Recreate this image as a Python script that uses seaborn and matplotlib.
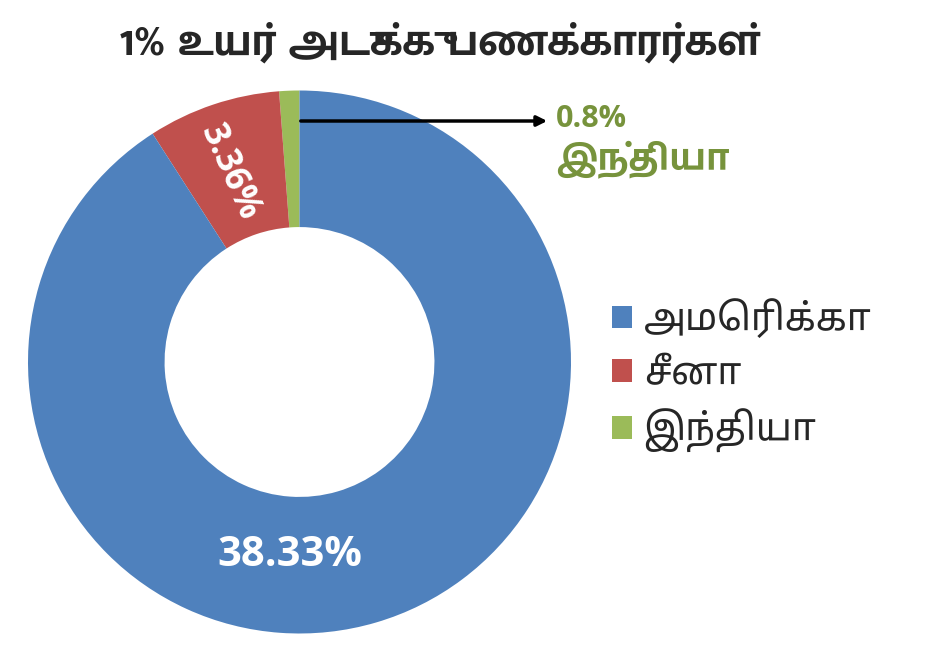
import matplotlib
matplotlib.use("Agg")
import matplotlib.pyplot as plt
import seaborn as sns

# data
countries = ["அமெரிக்கா", "சீனா", "இந்தியா"]
label_text = ["38.33%", "3.36%", "0.8%"]
# share of the ring as drawn
ring_share = [90.9, 7.9, 1.2]
title = "1% உயர் அடுக்கு பணக்காரர்கள்"

sns.set_theme(style="white")
colors = ["#4F81BD", "#C0504D", "#9BBB59"]

W, H = 933, 650
fig = plt.figure(figsize=(W / 100, H / 100), dpi=100)
ax = fig.add_axes([0, 0, 1, 1])
ax.set_xlim(0, W)
ax.set_ylim(0, H)
ax.set_aspect("equal")
ax.axis("off")

cx, cy, r = 299.5, H - 362, 271.5
# India first so it starts at 12 o'clock, going counter-clockwise
order = [2, 1, 0]
wedges, _ = ax.pie([ring_share[i] for i in order], colors=[colors[i] for i in order],
                   startangle=90, counterclock=True, center=(cx, cy), radius=r,
                   wedgeprops=dict(width=r * 0.503, linewidth=0))
ax.set_xlim(0, W)
ax.set_ylim(0, H)

fig.text(440 / W, 1 - 43 / H, title, ha="center", va="center",
         fontsize=33, fontweight="bold", family=["Mukta Malar", "DejaVu Sans"])

num_font = ["Open Sans", "DejaVu Sans"]
ax.text(290, H - 556, label_text[0], ha="center", va="center", color="white",
        fontsize=30, fontweight="bold", family=num_font, style="normal")
ax.text(229, H - 172, label_text[1], ha="center", va="center", color="white",
        fontsize=25, fontweight="bold", family=num_font, style="normal", rotation=-66)

# arrow callout for India
ax.annotate("", xy=(550, H - 121), xytext=(298, H - 121),
            arrowprops=dict(arrowstyle="-|>", color="black", lw=2.5, mutation_scale=15))
ax.text(556, H - 119, label_text[2], ha="left", va="center", color="#77933C",
        fontsize=22, fontweight="bold", family=num_font, style="normal")
ax.text(556, H - 160, countries[2], ha="left", va="center", color="#77933C",
        fontsize=26, fontweight="bold", family=["Hind Madurai", "DejaVu Sans"])

handles = [wedges[order.index(i)] for i in range(3)]
leg = ax.legend(handles, countries, loc="center left",
                bbox_to_anchor=(593 / W, 1 - 376 / H), bbox_transform=fig.transFigure,
                frameon=False, handlelength=0.55, handleheight=0.55, handletextpad=0.3,
                labelspacing=0.42, borderpad=0,
                prop=dict(family=["Noto Sans Tamil", "DejaVu Sans"], size=27))

fig.savefig("out.png", dpi=100)
